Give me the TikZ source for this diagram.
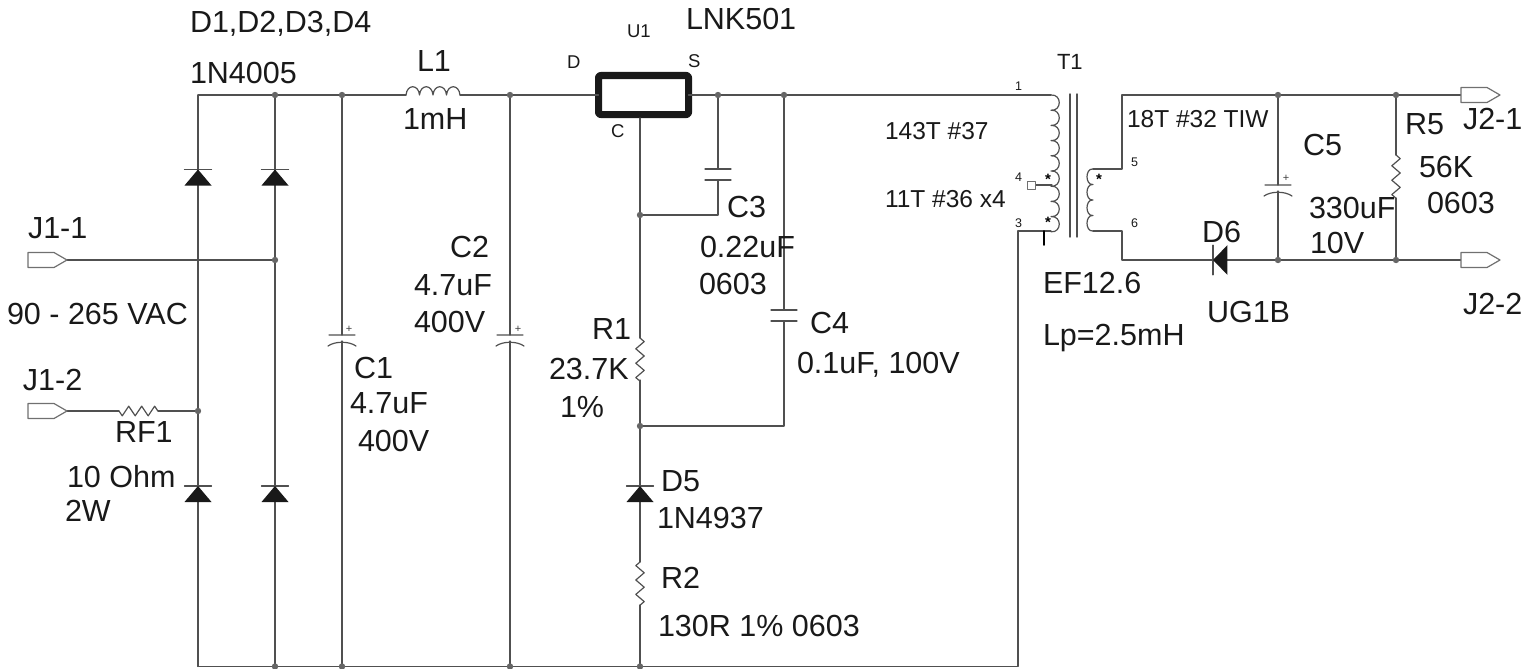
\documentclass[tikz,border=0pt]{standalone}
\usepackage{fontspec}
\setmainfont{Liberation Sans}
\definecolor{wire}{HTML}{505050}
\definecolor{dotgray}{HTML}{666666}
\definecolor{shellgray}{HTML}{707070}
\newcommand{\sz}[1]{\fontsize{#1}{#1}\selectfont}
\tikzset{
	lab/.style={anchor=base west,inner sep=0pt,outer sep=0pt,text=black!90,font=\sz{30.5}},
	midlab/.style={lab,font=\sz{24.5}},
	pinlab/.style={lab,font=\sz{18.5}},
	numlab/.style={lab,font=\sz{12.5}},
	polelab/.style={inner sep=0pt,text=black!75,font=\sz{11}},
	dotlab/.style={inner sep=0pt,text=black,font=\bfseries\sz{15}},
	resv/.pic={\draw (0,0)--++(-4.2,3.6)--++(8.4,7.2)--++(-8.4,7.2)--++(8.4,7.2)--++(-8.4,7.2)--++(8.4,7.2)--++(-4.2,3.6);},
	diode/.pic={\draw (-13.5,0)--(13.5,0);\fill[black!90] (0,0)--(13.5,16)--(-13.5,16)--cycle;},
	capn/.pic={\draw (-13,0)--(13,0) (-13,11)--(13,11);},
	capp/.pic={\draw (-13,0)--(13,0) (-14,11) .. controls (-7,6) and (7,6) .. (14,11);},
	jack/.pic={\draw[shellgray,fill=white] (0,-7.5)--(26,-7.5)--(39,0)--(26,7.5)--(0,7.5)--cycle;}
}
\begin{document}
\begin{tikzpicture}[x=1pt,y=-1pt,line join=round,line cap=round,>=stealth,wire,line width=1.2pt]
	\useasboundingbox (0,0) rectangle (1539,669);
	%%Points
	\path
	(198,95)coordinate(TA)(275,95)coordinate(TB)(342,95)coordinate(TC)(510,95)coordinate(TD)
	(718,95)coordinate(TE)(784,95)coordinate(TF)(1051,95)coordinate(TG)
	(198,666.5)coordinate(BA)(275,666.5)coordinate(BB)(342,666.5)coordinate(BC)(510,666.5)coordinate(BD)
	(640,666.5)coordinate(BE)(1018,666.5)coordinate(BF)
	(406,95)coordinate(LA)(460,95)coordinate(LB)
	(275,260)coordinate(AC)(198,411)coordinate(AD)
	(67,260)coordinate(JA)(67,411)coordinate(JB)
	(119,411)coordinate(RA)(158,411)coordinate(RB)
	(640,118)coordinate(UC)(640,215)coordinate(NA)(640,426)coordinate(NB)
	(640,338)coordinate(RC)(640,380)coordinate(RD)
	(640,562)coordinate(RE)(640,605)coordinate(RF)
	(718,169)coordinate(CA)(718,180)coordinate(CB)(718,215)coordinate(CC)
	(784,310)coordinate(CD)(784,321)coordinate(CE)(784,426)coordinate(CF)
	(342,335)coordinate(CG)(342,341)coordinate(CH)(510,335)coordinate(CI)(510,341)coordinate(CJ)
	(1278,185)coordinate(CK)(1278,191)coordinate(CL)
	(1018,231)coordinate(PC)(1051,231)coordinate(PD)(1044,231)coordinate(PE)(1044,245)coordinate(PF)
	(1035,185)coordinate(PG)(1052,185)coordinate(PH)
	(1093,169)coordinate(SA)(1122,169)coordinate(SB)(1122,95)coordinate(SC)
	(1093,231)coordinate(SD)(1122,231)coordinate(SE)(1122,260)coordinate(SF)
	(1278,95)coordinate(SG)(1396,95)coordinate(SH)(1461,95)coordinate(SI)
	(1278,260)coordinate(SJ)(1396,260)coordinate(SK)(1461,260)coordinate(SL)
	(1396,155)coordinate(RG)(1396,198)coordinate(RH)
	(1070,94)coordinate(KA)(1070,237)coordinate(KB)(1077,94)coordinate(KC)(1077,237)coordinate(KD)
	(1213,260)coordinate(DA)
	;
	%%Regulator
	\node[draw=black!90,line width=7pt,fill=white,rounded corners=2pt,inner sep=0pt,outer sep=0pt,minimum width=90pt,minimum height=39pt] (U1box) at (643.5,95) {};
	%%Wires
	\draw (TA)--(LA) (LB)--(U1box.west) (U1box.east)--(TG);
	\draw (BA)--(BF)--(PC)--(PD);
	\draw (TA)--(BA) (TB)--(BB);
	\draw (JA)--(AC) (JB)--(RA) (RB)--(AD);
	\draw (TC)--(CG) (CH)--(BC) (TD)--(CI) (CJ)--(BD);
	\draw (UC)--(RC) (RD)--(RE) (RF)--(BE);
	\draw (TE)--(CA) (CB)--(CC)--(NA);
	\draw (TF)--(CD) (CE)--(CF)--(NB);
	\draw (SA)--(SB)--(SC)--(SI);
	\draw (SD)--(SE)--(SF)--(SL);
	\draw (SG)--(CK) (CL)--(SJ);
	\draw (SH)--(RG) (RH)--(SK);
	\draw (PG)--(PH);
	\draw[black,line width=1.8pt] (PE)--(PF);
	\draw[line width=1.4pt] (KA)--(KB) (KC)--(KD);
	\node[draw=shellgray,fill=white,line width=1pt,inner sep=0pt,minimum width=8pt,minimum height=8pt] (pin4) at (1031,185) {};
	%%Inductor and windings
	\draw (LA) foreach \i in {1,...,4}{ .. controls +(1,-11) and +(-1,-11) .. ++(13.5,0)};
	\draw (TG) foreach \i in {1,...,9}{ .. controls +(11,-1) and +(11,1) .. ++(0,15.2)};
	\draw (SA) foreach \i in {1,...,4}{ .. controls +(-8,-1) and +(-8,1) .. ++(0,15.5)};
	%%Parts
	\foreach \t/\g in {169.5/198,169.5/275,486/198,486/275,486/640}{
			\path (\g,\t) pic {diode};
		}
	\path (DA) pic[rotate=90,xscale=1.1,yscale=.9] {diode};
	\path (RC) pic[xscale=-1] {resv} (RE) pic {resv} (RG) pic[xscale=-1] {resv};
	\path (RA) pic[rotate=90,yscale=.9,xscale=1.15] {resv};
	\path (CA) pic {capn} (CD) pic {capn};
	\path (CG) pic {capp} (CI) pic {capp} (CK) pic {capp};
	\path (28,260) pic {jack} (28,411) pic {jack} (SI) pic {jack} (SL) pic {jack};
	%%Junctions
	\foreach \t in {TB,TC,TD,TE,TF,BB,BC,BD,BE,AC,AD,NA,NB,SG,SH,SJ,SK}{
			\fill[dotgray] (\t) circle(3.2pt);
		}
	%%Pole marks
	\foreach \n/\x/\y/\t in {plusA/349/329/+,plusB/518/329/+,plusC/1286/178/+}{
			\node[polelab] (\n) at (\x,\y) {\t};
		}
	\foreach \n/\x/\y in {starA/1048/179,starB/1048/222,starC/1099/179}{
			\node[dotlab] (\n) at (\x,\y) {*};
		}
	%%Labels
	\foreach \n/\x/\y/\t in {
			diodes/190/33/{D1,D2,D3,D4},bridge/190/83/1N4005,L1a/417/71/L1,L1b/403/129/1mH,
			part/686/30/LNK501,J1a/28/238/J1-1,vac/7/324/90 - 265 VAC,J1b/23/390/J1-2,
			RF1a/115/442/RF1,RF1b/67/487/10 Ohm,RF1c/65/521/2W,
			C1a/354/378/C1,C1b/350/413/4.7uF,C1c/358/451/400V,
			C2a/450/257/C2,C2b/414/295/4.7uF,C2c/414/332/400V,
			R1a/592/339/R1,R1b/549/379/23.7K,R1c/560/417/1\%,
			C3a/727/217/C3,C3b/700/257/0.22uF,C3c/699/294/0603,
			C4a/810/333/C4,C4b/797/373/{0.1uF, 100V},
			D5a/661/491/D5,D5b/657/528/1N4937,R2a/661/588/R2,R2b/658/636/130R 1\% 0603,
			core/1043/293/EF12.6,Lp/1043/345/Lp=2.5mH,
			D6a/1202/242/D6,D6b/1207/322/UG1B,
			C5a/1303/155/C5,C5b/1309/218/330uF,C5c/1310/253/10V,
			R5a/1405/134/R5,R5b/1419/177/56K,R5c/1427/213/0603,
			J2a/1463/129/J2-1,J2b/1463/314/J2-2}{
			\node[lab] (\n) at (\x,\y) {\t};
		}
	\foreach \n/\x/\y/\t in {priA/885/139/143T \#37,priB/885/207/11T \#36 x4,sec/1127/127/18T \#32 TIW}{
			\node[midlab] (\n) at (\x,\y) {\t};
		}
	\foreach \n/\x/\y/\t in {U1a/627/38/U1,U1d/567/69/D,U1s/688/67/S,U1c/611/137/C}{
			\node[pinlab] (\n) at (\x,\y) {\t};
		}
	\node[lab,font=\sz{22}] (T1a) at (1057,70) {T1};
	\foreach \n/\x/\y/\t in {num1/1015/91/1,num4/1015/181/4,num3/1015/227/3,num5/1131/166/5,num6/1131/227/6}{
			\node[numlab] (\n) at (\x,\y) {\t};
		}
\end{tikzpicture}
\end{document}
